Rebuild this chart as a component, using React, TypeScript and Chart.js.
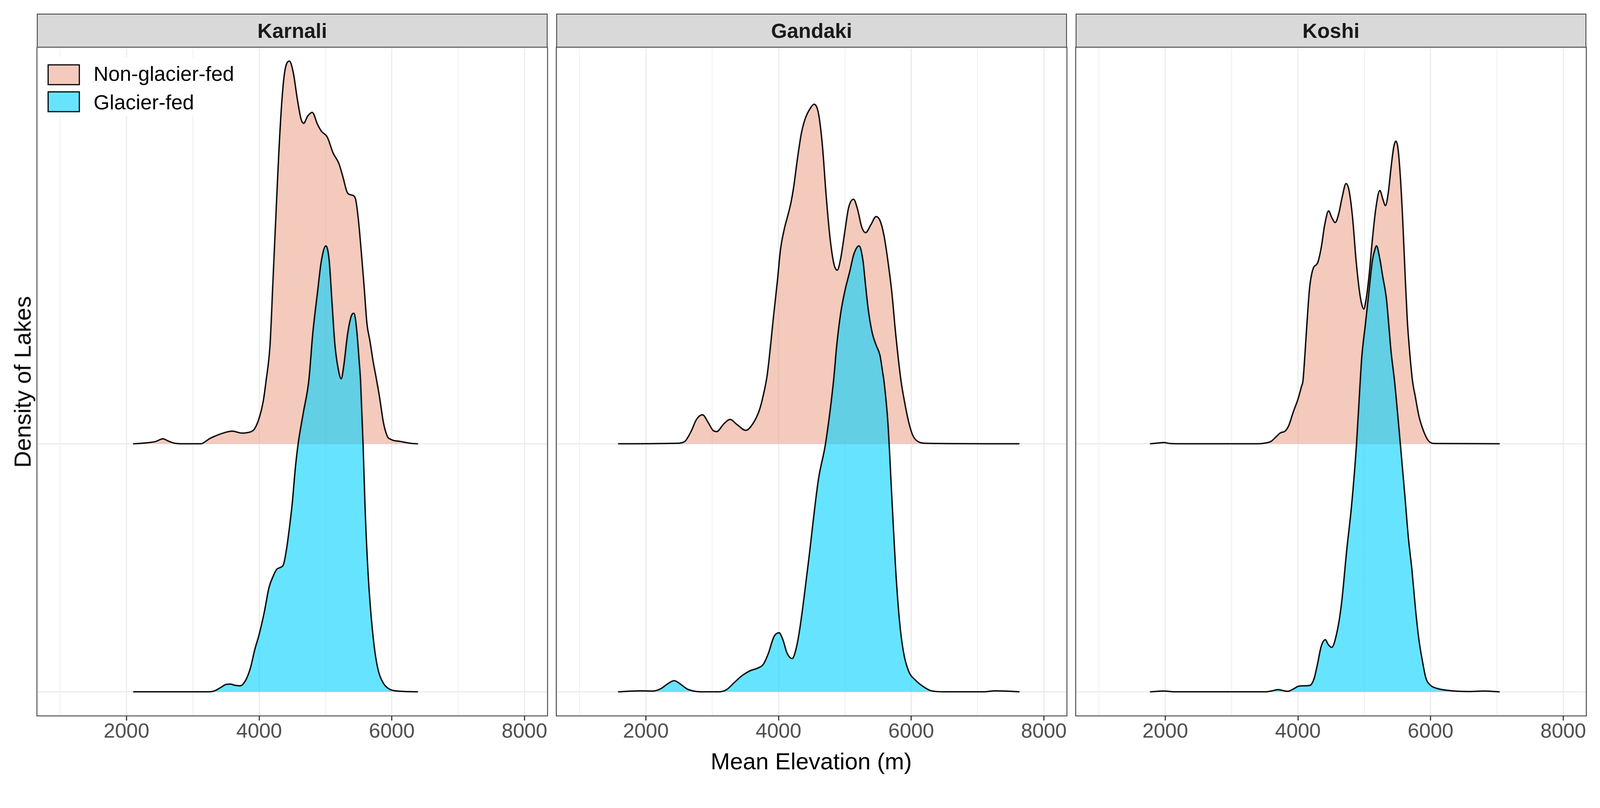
import React, { useEffect, useRef } from "react";
import { Chart, registerables } from "chart.js";

Chart.register(...registerables);

const FONT = "'Liberation Sans', Arial, Helvetica, sans-serif";

// ---------------- data ----------------
const PANELS = ["Karnali", "Gandaki", "Koshi"];
const SERIES = ["Non-glacier-fed", "Glacier-fed"];
const X_TICKS = [1000, 2000, 3000, 4000, 5000, 6000, 7000, 8000];
const X_LABELLED = [2000, 4000, 6000, 8000];
const X_MIN = 650;
const X_MAX = 8348;

// ridge heights are in units of the ridge spacing
const KARNALI_NON_ELEV = [2108, 2278, 2439, 2550, 2629, 2731, 2863, 3126, 3155, 3257, 3345, 3506, 3594, 3740, 3871, 3930, 4003, 4061, 4105, 4164, 4208, 4251, 4295, 4339, 4383, 4456, 4515, 4573, 4632, 4670, 4734, 4801, 4880, 4939, 5026, 5114, 5202, 5260, 5333, 5392, 5450, 5494, 5538, 5582, 5626, 5670, 5714, 5772, 5816, 5874, 5933, 5991, 6137, 6284, 6386];
const KARNALI_NON_DENS = [0, 0.003, 0.009, 0.02, 0.011, 0.002, 0, 0, 0.003, 0.021, 0.032, 0.047, 0.051, 0.043, 0.048, 0.06, 0.106, 0.17, 0.255, 0.398, 0.654, 0.909, 1.164, 1.369, 1.496, 1.543, 1.496, 1.394, 1.309, 1.292, 1.322, 1.336, 1.288, 1.26, 1.237, 1.173, 1.13, 1.079, 1.011, 1.003, 0.99, 0.909, 0.781, 0.637, 0.483, 0.415, 0.339, 0.255, 0.187, 0.085, 0.03, 0.017, 0.009, 0.002, 0];

const KARNALI_GLA_ELEV = [2108, 3242, 3330, 3418, 3506, 3564, 3637, 3711, 3798, 3871, 3930, 4003, 4076, 4149, 4208, 4266, 4325, 4369, 4412, 4456, 4500, 4544, 4588, 4668, 4749, 4807, 4880, 4939, 5006, 5056, 5099, 5143, 5202, 5237, 5275, 5333, 5392, 5430, 5471, 5509, 5529, 5567, 5597, 5640, 5684, 5743, 5801, 5874, 5962, 6079, 6386];
const KARNALI_GLA_DENS = [0, 0, 0.004, 0.017, 0.03, 0.031, 0.026, 0.024, 0.047, 0.098, 0.166, 0.234, 0.319, 0.421, 0.464, 0.494, 0.502, 0.515, 0.574, 0.66, 0.762, 0.898, 1.0, 1.128, 1.255, 1.441, 1.611, 1.739, 1.798, 1.739, 1.568, 1.398, 1.288, 1.262, 1.313, 1.441, 1.517, 1.526, 1.458, 1.33, 1.255, 1.0, 0.745, 0.489, 0.319, 0.166, 0.081, 0.034, 0.011, 0.003, 0];

const GANDAKI_NON_ELEV = [1589, 2466, 2585, 2684, 2763, 2854, 2941, 3012, 3067, 3178, 3269, 3376, 3506, 3613, 3712, 3771, 3830, 3929, 3988, 4028, 4087, 4146, 4185, 4225, 4285, 4344, 4403, 4482, 4534, 4601, 4660, 4720, 4779, 4838, 4886, 4937, 4996, 5056, 5131, 5194, 5253, 5313, 5392, 5471, 5530, 5589, 5648, 5708, 5767, 5846, 5905, 5965, 6024, 6103, 6222, 7625];
const GANDAKI_NON_DENS = [0, 0.002, 0.009, 0.051, 0.098, 0.117, 0.085, 0.054, 0.049, 0.081, 0.098, 0.077, 0.054, 0.081, 0.136, 0.196, 0.279, 0.524, 0.669, 0.78, 0.866, 0.926, 0.969, 1.029, 1.149, 1.251, 1.311, 1.354, 1.369, 1.334, 1.207, 0.994, 0.824, 0.722, 0.7, 0.747, 0.849, 0.951, 0.986, 0.943, 0.875, 0.851, 0.883, 0.916, 0.9, 0.841, 0.739, 0.611, 0.441, 0.255, 0.162, 0.085, 0.034, 0.009, 0.002, 0];

const GANDAKI_GLA_ELEV = [1589, 1913, 2111, 2229, 2328, 2427, 2526, 2625, 2743, 2862, 3099, 3218, 3336, 3455, 3573, 3692, 3771, 3850, 3929, 4008, 4067, 4127, 4206, 4265, 4324, 4443, 4601, 4708, 4830, 4878, 4937, 4996, 5075, 5135, 5214, 5273, 5313, 5352, 5411, 5471, 5530, 5570, 5589, 5649, 5708, 5767, 5827, 5886, 5965, 6064, 6182, 6301, 6498, 7091, 7269, 7408, 7625];
const GANDAKI_GLA_DENS = [0, 0.004, 0.003, 0.013, 0.032, 0.045, 0.03, 0.011, 0.002, 0, 0, 0.009, 0.038, 0.066, 0.085, 0.096, 0.111, 0.157, 0.221, 0.238, 0.209, 0.157, 0.134, 0.174, 0.26, 0.506, 0.855, 1.0, 1.255, 1.398, 1.526, 1.611, 1.696, 1.764, 1.798, 1.739, 1.637, 1.543, 1.449, 1.398, 1.356, 1.288, 1.255, 1.085, 0.787, 0.489, 0.277, 0.157, 0.081, 0.047, 0.021, 0.004, 0, 0, 0.004, 0.003, 0];

const KOSHI_NON_ELEV = [1779, 1895, 1975, 2070, 2175, 3404, 3509, 3597, 3667, 3737, 3807, 3860, 3930, 4000, 4053, 4077, 4105, 4140, 4176, 4228, 4298, 4351, 4404, 4463, 4509, 4562, 4614, 4667, 4726, 4772, 4825, 4877, 4930, 4965, 4993, 5025, 5070, 5123, 5176, 5235, 5281, 5320, 5362, 5404, 5446, 5477, 5509, 5544, 5579, 5614, 5649, 5684, 5727, 5772, 5825, 5895, 5965, 6053, 7035];
const KOSHI_NON_DENS = [0, 0.003, 0.005, 0.001, 0, 0, 0.003, 0.01, 0.027, 0.044, 0.051, 0.072, 0.128, 0.179, 0.23, 0.255, 0.356, 0.5, 0.628, 0.705, 0.73, 0.79, 0.883, 0.939, 0.913, 0.892, 0.926, 0.994, 1.049, 1.02, 0.909, 0.739, 0.611, 0.56, 0.543, 0.577, 0.671, 0.824, 0.951, 1.021, 0.986, 0.96, 1.011, 1.113, 1.198, 1.22, 1.19, 1.079, 0.909, 0.696, 0.5, 0.373, 0.255, 0.187, 0.111, 0.051, 0.013, 0.001, 0];

const KOSHI_GLA_ELEV = [1779, 1975, 2140, 3509, 3614, 3702, 3790, 3849, 3930, 4018, 4105, 4183, 4246, 4298, 4351, 4414, 4456, 4509, 4597, 4660, 4737, 4807, 4884, 4940, 4965, 5018, 5070, 5123, 5158, 5186, 5228, 5281, 5334, 5369, 5404, 5456, 5544, 5614, 5667, 5720, 5772, 5825, 5878, 5930, 6000, 6105, 6246, 6562, 6807, 7035];
const KOSHI_GLA_DENS = [0, 0.003, 0, 0, 0.004, 0.009, 0.004, 0.002, 0.011, 0.023, 0.024, 0.026, 0.055, 0.115, 0.183, 0.21, 0.191, 0.179, 0.251, 0.362, 0.574, 0.745, 1.0, 1.255, 1.356, 1.483, 1.611, 1.739, 1.781, 1.798, 1.756, 1.671, 1.586, 1.483, 1.373, 1.255, 1.0, 0.787, 0.617, 0.489, 0.336, 0.209, 0.123, 0.055, 0.026, 0.013, 0.006, 0.001, 0.003, 0];

const PANEL_DATA = [
  { non: [KARNALI_NON_ELEV, KARNALI_NON_DENS], gla: [KARNALI_GLA_ELEV, KARNALI_GLA_DENS] },
  { non: [GANDAKI_NON_ELEV, GANDAKI_NON_DENS], gla: [GANDAKI_GLA_ELEV, GANDAKI_GLA_DENS] },
  { non: [KOSHI_NON_ELEV, KOSHI_NON_DENS], gla: [KOSHI_GLA_ELEV, KOSHI_GLA_DENS] },
];

// ---------------- style / layout ----------------
const PAGE_W = 4205;
const PAGE_H = 2069;
const PINK = "rgba(233,150,122,0.5)";
const BLUE = "rgba(0,210,255,0.6)";
const PANEL_LEFT = [97, 1462, 2827];
const PANEL_W = 1342;
const PANEL_TOP = 124;
const PANEL_BOTTOM = 1882;
const STRIP_TOP = 36;
const Y_MIN = 0.9026;
const Y_MAX = 3.599;
const PAD_X = 70;
const PAD_TOP = 10;
const AXIS_H = 80;

const panelBorder = {
  id: "panelBorder",
  afterDraw(chart: any) {
    const { ctx, chartArea: a } = chart;
    ctx.save();
    ctx.strokeStyle = "#333333";
    ctx.lineWidth = 2.2;
    ctx.strokeRect(a.left, a.top, a.right - a.left, a.bottom - a.top);
    ctx.restore();
  },
};

function buildChart(canvas: HTMLCanvasElement, idx: number, dpr: number) {
  const d = PANEL_DATA[idx];
  // category positions: Glacier-fed at 1, Non-glacier-fed at 2
  const glaBase = 1;
  const nonBase = 2;
  const common = {
    borderColor: "#000000",
    borderWidth: 3.5,
    pointRadius: 0,
    cubicInterpolationMode: "monotone",
    borderJoinStyle: "round",
    borderCapStyle: "round",
  };
  const datasets: any[] = [
    {
      ...common,
      label: SERIES[1],
      data: d.gla[0].map((x, i) => ({ x, y: glaBase + d.gla[1][i] })),
      fill: { value: glaBase },
      backgroundColor: BLUE,
    },
    {
      ...common,
      label: SERIES[0],
      data: d.non[0].map((x, i) => ({ x, y: nonBase + d.non[1][i] })),
      fill: { value: nonBase },
      backgroundColor: PINK,
    },
  ];
  return new Chart(canvas, {
    type: "line",
    data: { datasets },
    plugins: [panelBorder],
    options: {
      animation: false,
      responsive: false,
      devicePixelRatio: dpr,
      layout: { padding: { left: PAD_X, right: PAD_X, top: PAD_TOP, bottom: 0 } },
      plugins: { legend: { display: false }, tooltip: { enabled: false } },
      scales: {
        x: {
          type: "linear",
          min: X_MIN,
          max: X_MAX,
          afterBuildTicks: (s: any) => {
            s.ticks = X_TICKS.map((v) => ({ value: v }));
          },
          afterFit: (s: any) => {
            s.height = AXIS_H;
          },
          ticks: {
            autoSkip: false,
            maxRotation: 0,
            padding: 0,
            color: "#4D4D4D",
            font: { family: FONT, size: 54, lineHeight: 1.1 },
            callback: (v: any) => (X_LABELLED.includes(Number(v)) ? String(v) : ""),
          },
          grid: {
            color: "#EBEBEB",
            lineWidth: (c: any) => (c.tick && X_LABELLED.includes(c.tick.value) ? 3 : 1.6),
            drawTicks: true,
            tickLength: 12,
            tickWidth: 3,
            tickColor: (c: any) => (c.tick && X_LABELLED.includes(c.tick.value) ? "#333333" : "rgba(0,0,0,0)"),
          },
          border: { display: false },
        },
        y: {
          type: "linear",
          min: Y_MIN,
          max: Y_MAX,
          afterBuildTicks: (s: any) => {
            s.ticks = [{ value: 1 }, { value: 2 }];
          },
          afterFit: (s: any) => {
            s.width = 0;
          },
          ticks: { display: false },
          grid: { color: "#EBEBEB", lineWidth: 3, drawTicks: false },
          border: { display: false },
        },
      },
    } as any,
  });
}

function Panel({ idx, scale }: { idx: number; scale: number }) {
  const ref = useRef<HTMLCanvasElement | null>(null);
  useEffect(() => {
    if (!ref.current) return;
    const dpr = Math.max(1, (window.devicePixelRatio || 1) * scale);
    const chart = buildChart(ref.current, idx, dpr);
    return () => chart.destroy();
  }, [idx, scale]);
  const w = PANEL_W + 2 * PAD_X;
  const h = PANEL_BOTTOM - PANEL_TOP + PAD_TOP + AXIS_H;
  return (
    <canvas
      ref={ref}
      width={w}
      height={h}
      style={{
        position: "absolute",
        left: PANEL_LEFT[idx] - PAD_X,
        top: PANEL_TOP - PAD_TOP,
        width: w,
        height: h,
      }}
    />
  );
}

export default function App() {
  const vw = typeof window !== "undefined" && window.innerWidth ? window.innerWidth : PAGE_W;
  const vh = typeof window !== "undefined" && window.innerHeight ? window.innerHeight : PAGE_H;
  const scale = Math.min(vw / PAGE_W, vh / PAGE_H);
  useEffect(() => {
    document.body.style.margin = "0";
    document.body.style.overflow = "hidden";
    document.documentElement.style.overflow = "hidden";
  }, []);
  const text: React.CSSProperties = { position: "absolute", fontFamily: FONT, whiteSpace: "nowrap" };
  return (
    <div style={{ position: "fixed", left: 0, top: 0, width: PAGE_W * scale, height: PAGE_H * scale, overflow: "hidden", background: "#ffffff" }}>
      <div
        style={{
          position: "relative",
          width: PAGE_W,
          height: PAGE_H,
          background: "#ffffff",
          transform: `scale(${scale})`,
          transformOrigin: "0 0",
        }}
      >
        {PANELS.map((_, i) => (
          <Panel key={"p" + i} idx={i} scale={scale} />
        ))}
        {PANELS.map((name, i) => (
          <div
            key={"s" + i}
            style={{
              ...text,
              left: PANEL_LEFT[i],
              top: STRIP_TOP,
              width: PANEL_W,
              height: PANEL_TOP - STRIP_TOP + 1,
              boxSizing: "border-box",
              border: "2.2px solid #333333",
              background: "#D9D9D9",
              color: "#1A1A1A",
              fontWeight: "bold",
              fontSize: 54,
              display: "flex",
              alignItems: "center",
              justifyContent: "center",
            }}
          >
            {name}
          </div>
        ))}
        {/* legend */}
        <div style={{ position: "absolute", left: 110, top: 150, width: 530, height: 155, background: "#ffffff" }} />
        {SERIES.map((s, i) => (
          <React.Fragment key={"l" + i}>
            <div
              style={{
                position: "absolute",
                left: 125,
                top: 169 + i * 71,
                width: 85,
                height: 55,
                boxSizing: "border-box",
                border: "3px solid #000000",
                background: i === 0 ? PINK : BLUE,
              }}
            />
            <div
              style={{
                ...text,
                left: 246,
                top: 193 + i * 75 - 35,
                height: 70,
                lineHeight: "70px",
                fontSize: 54,
                color: "#000000",
              }}
            >
              {s}
            </div>
          </React.Fragment>
        ))}
        {/* axis titles */}
        <div
          style={{
            ...text,
            left: 2132 - 500,
            top: 2001 - 35,
            width: 1000,
            height: 70,
            lineHeight: "70px",
            textAlign: "center",
            fontSize: 61,
            color: "#000000",
          }}
        >
          Mean Elevation (m)
        </div>
        <div
          style={{
            ...text,
            left: 59 - 300,
            top: 1004 - 35,
            width: 600,
            height: 70,
            lineHeight: "70px",
            textAlign: "center",
            fontSize: 61,
            color: "#000000",
            transform: "rotate(-90deg)",
          }}
        >
          Density of Lakes
        </div>
      </div>
    </div>
  );
}
